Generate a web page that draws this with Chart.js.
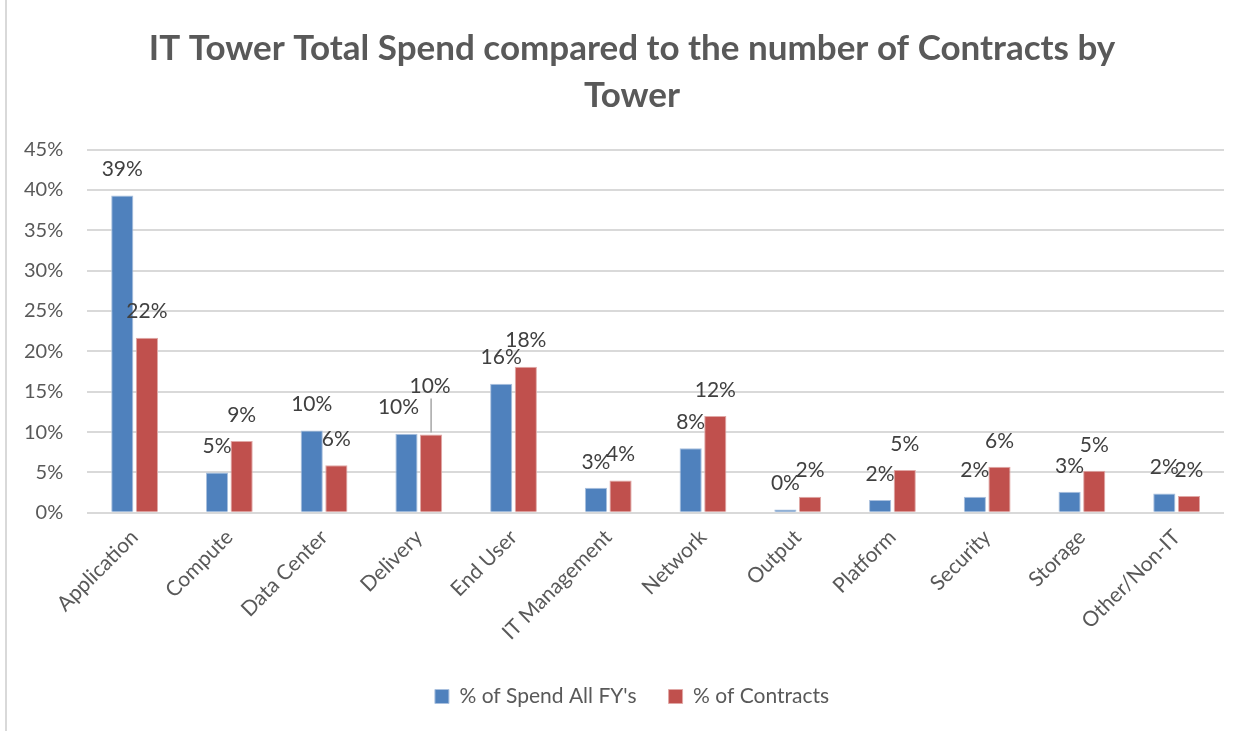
<!DOCTYPE html>
<html>
<head>
<meta charset="utf-8">
<script src="https://cdn.jsdelivr.net/npm/chart.js@4.4.1/dist/chart.umd.min.js"></script>
<style>
  html, body { margin: 0; padding: 0; background: #fff; }
  #marco { position: absolute; left: 0; top: 0; width: 1251px; height: 731px; }
  #borde { position: absolute; left: 5px; top: 0; width: 0; height: 731px; border-left: 2px solid #d9d9d9; }
</style>
</head>
<body>
<div id="borde"></div>
<div id="marco"><canvas id="grafico" width="1251" height="731"></canvas></div>
<script>
// Datos (porcentajes)
const torres = ['Application', 'Compute', 'Data Center', 'Delivery', 'End User', 'IT Management',
                'Network', 'Output', 'Platform', 'Security', 'Storage', 'Other/Non-IT'];
const gastoPct = [39.3, 5.0, 10.2, 9.8, 16.0, 3.1, 8.0, 0.4, 1.6, 2.0, 2.6, 2.4];
const contratosPct = [21.7, 8.9, 5.9, 9.7, 18.1, 4.0, 12.0, 2.0, 5.3, 5.7, 5.2, 2.1];
const ticksY = [0, 5, 10, 15, 20, 25, 30, 35, 40, 45];

const fuente = 'Lato, "Open Sans", sans-serif';

// etiquetas de valor encima de cada barra
const etiquetas = {
    id: 'etiquetas',
    afterLayout(chart) {
        // titulo y leyenda centrados en todo el marco, no solo en el area util
        [chart.titleBlock, chart.legend].forEach(b => {
            if (b) { b.left += 20; b.right += 20; }
        });
    },
    afterDatasetsDraw(chart) {
        const c = chart.ctx;
        const azul = chart.getDatasetMeta(0).data;
        const rojo = chart.getDatasetMeta(1).data;
        c.save();
        c.font = '21px ' + fuente;
        c.fillStyle = '#404040';
        c.textAlign = 'center';
        c.textBaseline = 'middle';
        chart.data.datasets.forEach((ds, i) => {
            chart.getDatasetMeta(i).data.forEach((barra, j) => {
                const texto = Math.round(ds.data[j]) + '%';
                const choque = Math.abs(azul[j].y - rojo[j].y) < 1.5;
                let y = barra.y - 26;
                if (choque && i === 1) {
                    // se sube la etiqueta roja con su linea guia
                    y = barra.y - 48;
                    c.save();
                    c.strokeStyle = '#a6a6a6';
                    c.lineWidth = 1.5;
                    c.beginPath();
                    c.moveTo(barra.x, y + 12);
                    c.lineTo(barra.x, barra.y - 2);
                    c.stroke();
                    c.restore();
                    c.fillText(texto, barra.x - 1, y);
                } else if (choque) {
                    c.fillText(texto, barra.x - 8, y);
                } else {
                    c.fillText(texto, barra.x, y);
                }
            });
        });
        c.restore();
    }
};

const ctx = document.getElementById('grafico');

new Chart(ctx, {
    type: 'bar',
    data: {
        labels: torres,
        datasets: [{
            label: "% of Spend All FY's",
            data: gastoPct,
            backgroundColor: '#4F81BD',
            borderColor: '#a9c0de',
            borderWidth: 1,
            categoryPercentage: 0.52,
            barPercentage: 0.9
        }, {
            label: '% of Contracts',
            data: contratosPct,
            backgroundColor: '#C0504D',
            borderColor: '#e0a8a6',
            borderWidth: 1,
            categoryPercentage: 0.52,
            barPercentage: 0.9
        }]
    },
    options: {
        responsive: false,
        animation: false,
        layout: { padding: { left: 0, right: 27, top: 25, bottom: 14 } },
        plugins: {
            title: {
                display: true,
                text: ['IT Tower Total Spend compared to the number of Contracts by', 'Tower'],
                color: '#595959',
                font: { family: fuente, size: 35, weight: 'bold', lineHeight: 1.35 },
                padding: { top: 0, bottom: 30 }
            },
            legend: {
                position: 'bottom',
                labels: {
                    color: '#595959',
                    font: { family: fuente, size: 21 },
                    boxWidth: 14,
                    boxHeight: 14,
                    padding: 32
                }
            },
            tooltip: { enabled: false }
        },
        scales: {
            x: {
                grid: { display: false },
                border: { display: false },
                afterFit(eje) { eje.height += 5; },
                ticks: {
                    color: '#595959',
                    font: { family: fuente, size: 21 },
                    minRotation: 45,
                    maxRotation: 45,
                    padding: 4
                }
            },
            y: {
                min: 0,
                max: 45,
                afterBuildTicks(eje) { eje.ticks = ticksY.map(v => ({ value: v })); },
                grid: { color: '#d9d9d9', lineWidth: 2, drawTicks: false },
                border: { display: false },
                ticks: {
                    color: '#595959',
                    font: { family: fuente, size: 20 },
                    padding: 24,
                    callback: v => v + '%'
                }
            }
        }
    },
    plugins: [etiquetas]
});
</script>
</body>
</html>
